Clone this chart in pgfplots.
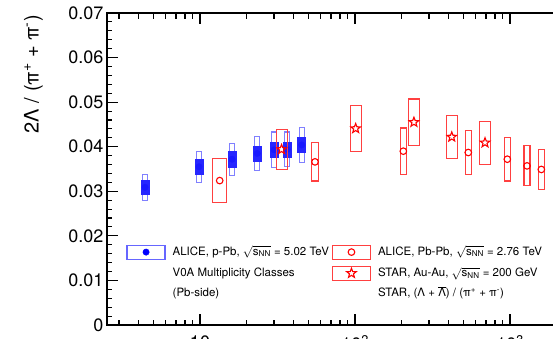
\documentclass[border=0pt]{standalone}
\usepackage{fontspec}
\setmainfont{TeX Gyre Heros}
\usepackage{pgfplots}
\usepackage{pgfplotstable}
\pgfplotsset{compat=1.18}

\pgfdeclareplotmark{ostar}{%
  \pgfpathmoveto{\pgfpointpolar{90}{\pgfplotmarksize}}%
  \pgfpathlineto{\pgfpointpolar{126}{0.42\pgfplotmarksize}}%
  \pgfpathlineto{\pgfpointpolar{162}{\pgfplotmarksize}}%
  \pgfpathlineto{\pgfpointpolar{198}{0.42\pgfplotmarksize}}%
  \pgfpathlineto{\pgfpointpolar{234}{\pgfplotmarksize}}%
  \pgfpathlineto{\pgfpointpolar{270}{0.42\pgfplotmarksize}}%
  \pgfpathlineto{\pgfpointpolar{306}{\pgfplotmarksize}}%
  \pgfpathlineto{\pgfpointpolar{342}{0.42\pgfplotmarksize}}%
  \pgfpathlineto{\pgfpointpolar{18}{\pgfplotmarksize}}%
  \pgfpathlineto{\pgfpointpolar{54}{0.42\pgfplotmarksize}}%
  \pgfpathclose\pgfusepathqstroke}

% ALICE p-Pb: x, y, systematic (open box), uncorrelated (filled box)
\pgfplotstableread{
x    y      sy     st
4.42 0.0309 0.0029 0.0016
9.85 0.0355 0.0035 0.0016
16.1 0.0372 0.0036 0.0017
23.4 0.0385 0.0038 0.0017
30.1 0.0393 0.0040 0.0017
36.5 0.0394 0.0039 0.0017
45.3 0.0404 0.0040 0.0017
}\ppbtab

% ALICE Pb-Pb: x, y, systematic, box half width (pt)
\pgfplotstableread{
x    y      sy     w
13.4 0.0324 0.0050 7
55.2 0.0366 0.0043 3.5
205  0.0390 0.0052 3
538  0.0387 0.0050 3
961  0.0372 0.0049 3
1288 0.0357 0.0045 3
1593 0.0349 0.0045 3
}\pbpbtab

% STAR Au-Au
\pgfplotstableread{
x    y      sy     w
33.6 0.0394 0.0045 5.5
101  0.0441 0.0052 5.5
240  0.0455 0.0052 5.5
421  0.0422 0.0049 5.5
690  0.0409 0.0048 5.5
}\startab

\begin{document}
\begin{tikzpicture}
\begin{axis}[
  scale only axis, width=465pt, height=312pt,
  xmode=log, xmin=2.512, xmax=2512,
  ymin=0, ymax=0.07,
  axis line style={line width=1.2pt},
  every tick/.style={black, line width=1.1pt},
  major tick length=11pt, minor tick length=5.5pt,
  xtick={10,100,1000}, xticklabels={10,10\textsuperscript{2},10\textsuperscript{3}},
  minor xtick={3,4,5,6,7,8,9,20,30,40,50,60,70,80,90,200,300,400,500,600,700,800,900,2000},
  ytick={0,0.01,0.02,0.03,0.04,0.05,0.06,0.07},
  minor y tick num=4,
  ytick pos=left,
  scaled y ticks=false,
  /pgf/number format/assume math mode=true,
  yticklabel style={/pgf/number format/fixed, /pgf/number format/precision=2},
  xticklabel style={yshift=-7pt},
  tick label style={font=\fontsize{18}{20}\selectfont},
  ylabel={2Λ / (π\textsuperscript{+} + π\textsuperscript{-})},
  ylabel style={font=\fontsize{20}{24}\selectfont, at={(rel axis cs:-0.1376,0.9936)}, anchor=south east, inner sep=0pt},
  legend columns=2,
  legend cell align=left,
  legend style={draw=none, fill=none, at={(0.0419,0.258)}, anchor=north west,
    inner sep=0pt, outer sep=0pt,
    font=\fontsize{11.5}{13}\selectfont,
    nodes={inner sep=1pt, text height=9pt, text depth=3pt},
    row sep=6pt,
    /tikz/every odd column/.style={column sep=6pt},
    /tikz/every even column/.style={column sep=2pt}},
]
% ALICE p-Pb
\addplot[forget plot, only marks, scatter, color=blue, mark=*, mark size=3.2pt,
  mark options={draw=blue!90, fill=blue!90},
  visualization depends on={4457.14*\thisrow{sy} \as \bh},
  visualization depends on={4457.14*\thisrow{st} \as \sh},
  scatter/@pre marker code/.code={%
    \pgfmathsetmacro\bhpt{\bh}%
    \pgfmathsetmacro\shpt{\sh}%
    \draw[blue!50, line width=1.2pt] (-2.5pt,-\bhpt pt) rectangle (2.5pt,\bhpt pt);
    \fill[blue!85] (-4pt,-\shpt pt) rectangle (4pt,\shpt pt);},
  scatter/@post marker code/.code={},
] table[x=x,y=y] {\ppbtab};
% ALICE Pb-Pb
\addplot[forget plot, only marks, scatter, color=red, mark=o, mark size=3.3pt,
  mark options={draw=red, line width=1.1pt},
  visualization depends on={4457.14*\thisrow{sy} \as \bh},
  visualization depends on={\thisrow{w} \as \bw},
  scatter/@pre marker code/.code={%
    \pgfmathsetmacro\bhpt{\bh}%
    \pgfmathsetmacro\bwpt{\bw}%
    \draw[red!75, line width=1.1pt] (-\bwpt pt,-\bhpt pt) rectangle (\bwpt pt,\bhpt pt);},
  scatter/@post marker code/.code={},
] table[x=x,y=y] {\pbpbtab};
% STAR Au-Au
\addplot[forget plot, only marks, scatter, color=red, mark=ostar, mark size=5pt,
  mark options={draw=red, line width=1.1pt},
  visualization depends on={4457.14*\thisrow{sy} \as \bh},
  visualization depends on={\thisrow{w} \as \bw},
  scatter/@pre marker code/.code={%
    \pgfmathsetmacro\bhpt{\bh}%
    \pgfmathsetmacro\bwpt{\bw}%
    \draw[red!75, line width=1.1pt] (-\bwpt pt,-\bhpt pt) rectangle (\bwpt pt,\bhpt pt);},
  scatter/@post marker code/.code={},
] table[x=x,y=y] {\startab};

\addlegendimage{legend image code/.code={
  \draw[blue!60, line width=1.2pt] (0pt,-7pt) rectangle (38pt,7pt);
  \fill[blue] (19pt,0pt) circle (3.2pt);}}
\addlegendentry{ALICE, p-Pb, $\sqrt{\mbox{s\textsubscript{NN}}}$ = 5.02 TeV}
\addlegendimage{legend image code/.code={
  \draw[red!75, line width=1.1pt] (0pt,-7pt) rectangle (38pt,7pt);
  \draw[red, line width=1.1pt] (19pt,0pt) circle (3.3pt);}}
\addlegendentry{ALICE, Pb-Pb, $\sqrt{\mbox{s\textsubscript{NN}}}$ = 2.76 TeV}
\addlegendimage{empty legend}
\addlegendentry{V0A Multiplicity Classes}
\addlegendimage{legend image code/.code={
  \draw[red!75, line width=1.1pt] (0pt,-7pt) rectangle (38pt,7pt);
  \draw[red, line width=1.1pt, mark=ostar, mark size=5pt] plot coordinates {(19pt,0pt)};}}
\addlegendentry{STAR, Au-Au, $\sqrt{\mbox{s\textsubscript{NN}}}$ = 200 GeV}
\addlegendimage{empty legend}
\addlegendentry{(Pb-side)}
\addlegendimage{empty legend}
\addlegendentry{STAR, (Λ + $\overline{\mbox{Λ}}$) / (π\textsuperscript{+} + π\textsuperscript{-})}
\end{axis}
\pgfresetboundingbox
\path[use as bounding box] ([xshift=-107pt,yshift=-13pt]current axis.south west) rectangle ([xshift=446pt,yshift=325pt]current axis.south west);
\end{tikzpicture}
\end{document}
